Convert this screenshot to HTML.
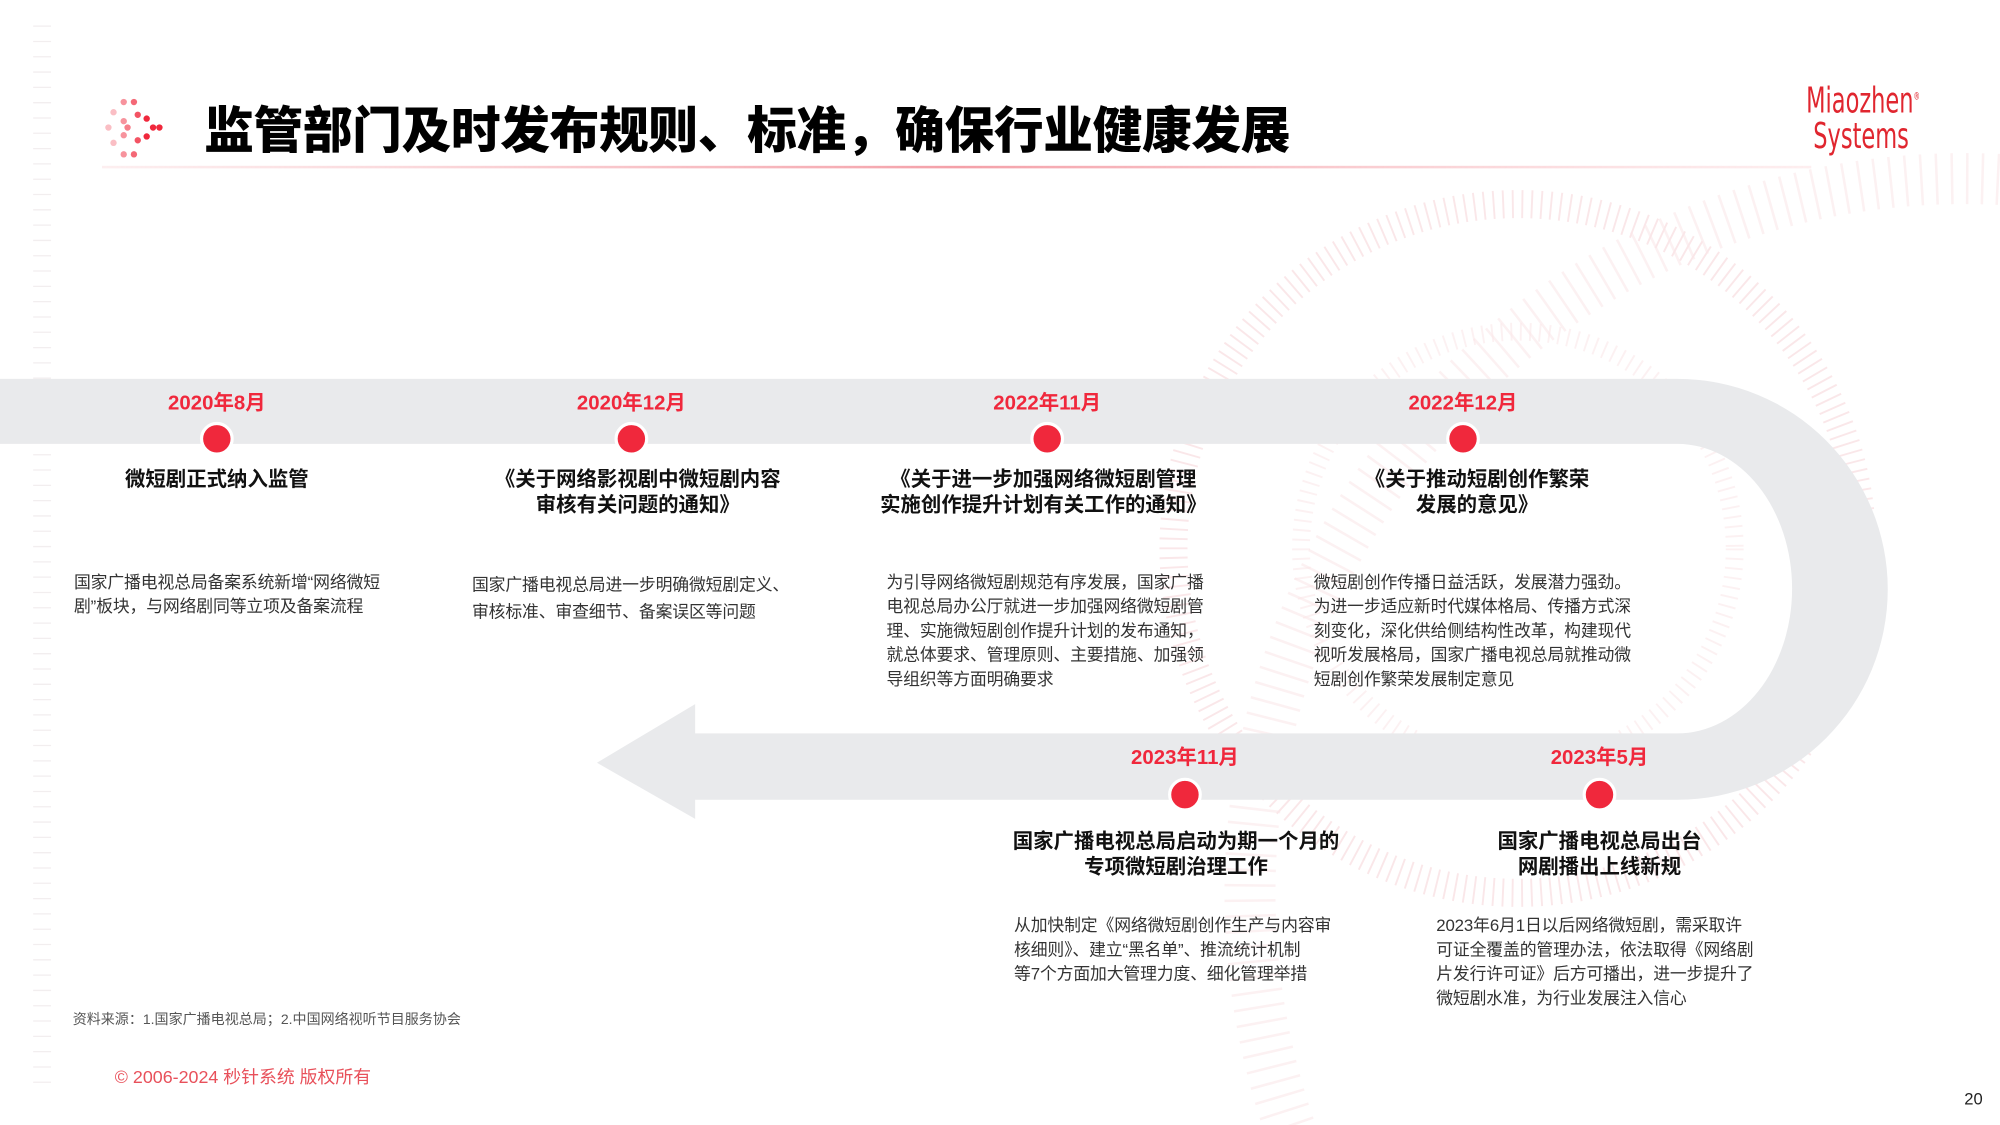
<!DOCTYPE html>
<html><head><meta charset="utf-8">
<style>
html,body{margin:0;padding:0;width:2000px;height:1125px;overflow:hidden;background:#fff}
#w{position:absolute;left:0;top:0;width:1568px;height:882px;overflow:hidden;transform:scale(1.27551);transform-origin:0 0;font-family:"Liberation Sans","Noto Sans CJK SC",sans-serif}
.a{position:absolute;white-space:nowrap}
.d{color:#f0283c;font-weight:bold;font-size:16px;transform:translateX(-50%)}
.h{color:#111;font-weight:bold;font-size:16px;line-height:20px;text-align:center;transform:translateX(-50%)}
.b{color:#333;font-size:13.2px;line-height:19px;letter-spacing:-0.1px}
</style></head><body><div id="w">
<svg class="a" style="left:0;top:0" width="1568" height="882">
<defs>
<linearGradient id="lg" x1="0" x2="1"><stop offset="0" stop-color="#f8c8cc" stop-opacity="0.3"/><stop offset="0.5" stop-color="#f4a0a8"/><stop offset="1" stop-color="#fbd5d8" stop-opacity="0.4"/></linearGradient>
</defs>
<line x1="33" y1="20" x2="33" y2="860" stroke="#e6dde0" stroke-dasharray="1 11" stroke-width="14" opacity="0.5"/>
<g stroke="#f3c4c9" fill="none" opacity="0.4">
<circle cx="1190" cy="430" r="270" stroke-dasharray="1.5 6" stroke-width="22"/>
<circle cx="1190" cy="430" r="170" stroke-dasharray="1.5 6" stroke-width="14" opacity="0.6"/>
<circle cx="1540" cy="700" r="560" stroke-dasharray="2 10" stroke-width="40" opacity="0.6"/>
</g>
<rect x="80" y="130" width="1340" height="2" fill="url(#lg)"/>
<g fill="#f0283c">
<circle cx="85" cy="100" r="2.5" opacity="0.3"/><circle cx="89" cy="88" r="2.5" opacity="0.3"/><circle cx="89" cy="112" r="2.5" opacity="0.3"/>
<circle cx="97" cy="80" r="2.5" opacity="0.5"/><circle cx="97" cy="95" r="2.5" opacity="0.5"/><circle cx="97" cy="106" r="2.5" opacity="0.5"/><circle cx="97" cy="121" r="2.5" opacity="0.5"/>
<circle cx="105" cy="80" r="2.5" opacity="0.7"/><circle cx="108" cy="90" r="2.5" opacity="0.8"/><circle cx="108" cy="110" r="2.5" opacity="0.8"/><circle cx="105" cy="121" r="2.5" opacity="0.7"/>
<circle cx="115" cy="93" r="2.5"/><circle cx="115" cy="107" r="2.5"/><circle cx="120" cy="100" r="2.5"/><circle cx="125" cy="100" r="2.5"/><circle cx="100" cy="100" r="2.5" opacity="0.6"/>
</g>
<path d="M0 297 H1315 A165 165 0 0 1 1315 627 H545 V642 L468 598 L545 552 V575 H1315 A90 113.5 0 0 0 1315 348 H0 Z" fill="#e9eaec"/>
<g fill="#f0283c" stroke="#fff" stroke-width="2.5">
<circle cx="170" cy="344" r="12"/><circle cx="495" cy="344" r="12"/><circle cx="821" cy="344" r="12"/><circle cx="1147" cy="344" r="12"/>
<circle cx="929" cy="623" r="12"/><circle cx="1254" cy="623" r="12"/>
</g>
</svg>
<div class="a" style="left:160px;top:72px;font-size:39px;font-weight:900;color:#000;letter-spacing:-0.3px">监管部门及时发布规则、标准，确保行业健康发展</div>
<div class="a" style="left:1416px;top:62px;color:#e0262f;font-family:'DejaVu Sans Condensed','Liberation Sans Narrow',sans-serif;font-size:28px;line-height:28px;transform:scaleX(0.7);transform-origin:0 0">Miaozhen<sup style="font-size:8px">®</sup><br>&nbsp;Systems</div>

<div class="a d" style="left:170px;top:302px">2020年8月</div>
<div class="a d" style="left:495px;top:302px">2020年12月</div>
<div class="a d" style="left:821px;top:302px">2022年11月</div>
<div class="a d" style="left:1147px;top:302px">2022年12月</div>
<div class="a d" style="left:929px;top:580px">2023年11月</div>
<div class="a d" style="left:1254px;top:580px">2023年5月</div>

<div class="a h" style="left:170px;top:367px">微短剧正式纳入监管</div>
<div class="a h" style="left:500px;top:367px">《关于网络影视剧中微短剧内容<br>审核有关问题的通知》</div>
<div class="a h" style="left:818px;top:367px">《关于进一步加强网络微短剧管理<br>实施创作提升计划有关工作的通知》</div>
<div class="a h" style="left:1158px;top:367px">《关于推动短剧创作繁荣<br>发展的意见》</div>
<div class="a h" style="left:922px;top:651px">国家广播电视总局启动为期一个月的<br>专项微短剧治理工作</div>
<div class="a h" style="left:1254px;top:651px">国家广播电视总局出台<br>网剧播出上线新规</div>

<div class="a b" style="left:58px;top:447px">国家广播电视总局备案系统新增“网络微短<br>剧”板块，与网络剧同等立项及备案流程</div>
<div class="a b" style="left:370px;top:448px;line-height:21px">国家广播电视总局进一步明确微短剧定义、<br>审核标准、审查细节、备案误区等问题</div>
<div class="a b" style="left:695px;top:447px">为引导网络微短剧规范有序发展，国家广播<br>电视总局办公厅就进一步加强网络微短剧管<br>理、实施微短剧创作提升计划的发布通知，<br>就总体要求、管理原则、主要措施、加强领<br>导组织等方面明确要求</div>
<div class="a b" style="left:1030px;top:447px">微短剧创作传播日益活跃，发展潜力强劲。<br>为进一步适应新时代媒体格局、传播方式深<br>刻变化，深化供给侧结构性改革，构建现代<br>视听发展格局，国家广播电视总局就推动微<br>短剧创作繁荣发展制定意见</div>
<div class="a b" style="left:795px;top:716px">从加快制定《网络微短剧创作生产与内容审<br>核细则》、建立“黑名单”、推流统计机制<br>等7个方面加大管理力度、细化管理举措</div>
<div class="a b" style="left:1126px;top:716px">2023年6月1日以后网络微短剧，需采取许<br>可证全覆盖的管理办法，依法取得《网络剧<br>片发行许可证》后方可播出，进一步提升了<br>微短剧水准，为行业发展注入信心</div>

<div class="a" style="left:57px;top:791px;font-size:11px;color:#555">资料来源：1.国家广播电视总局；2.中国网络视听节目服务协会</div>
<div class="a" style="left:90px;top:834px;font-size:14px;color:#e8505a">© 2006-2024 秒针系统 版权所有</div>
<div class="a" style="left:1540px;top:854px;font-size:13px;color:#222">20</div>
</div></body></html>
